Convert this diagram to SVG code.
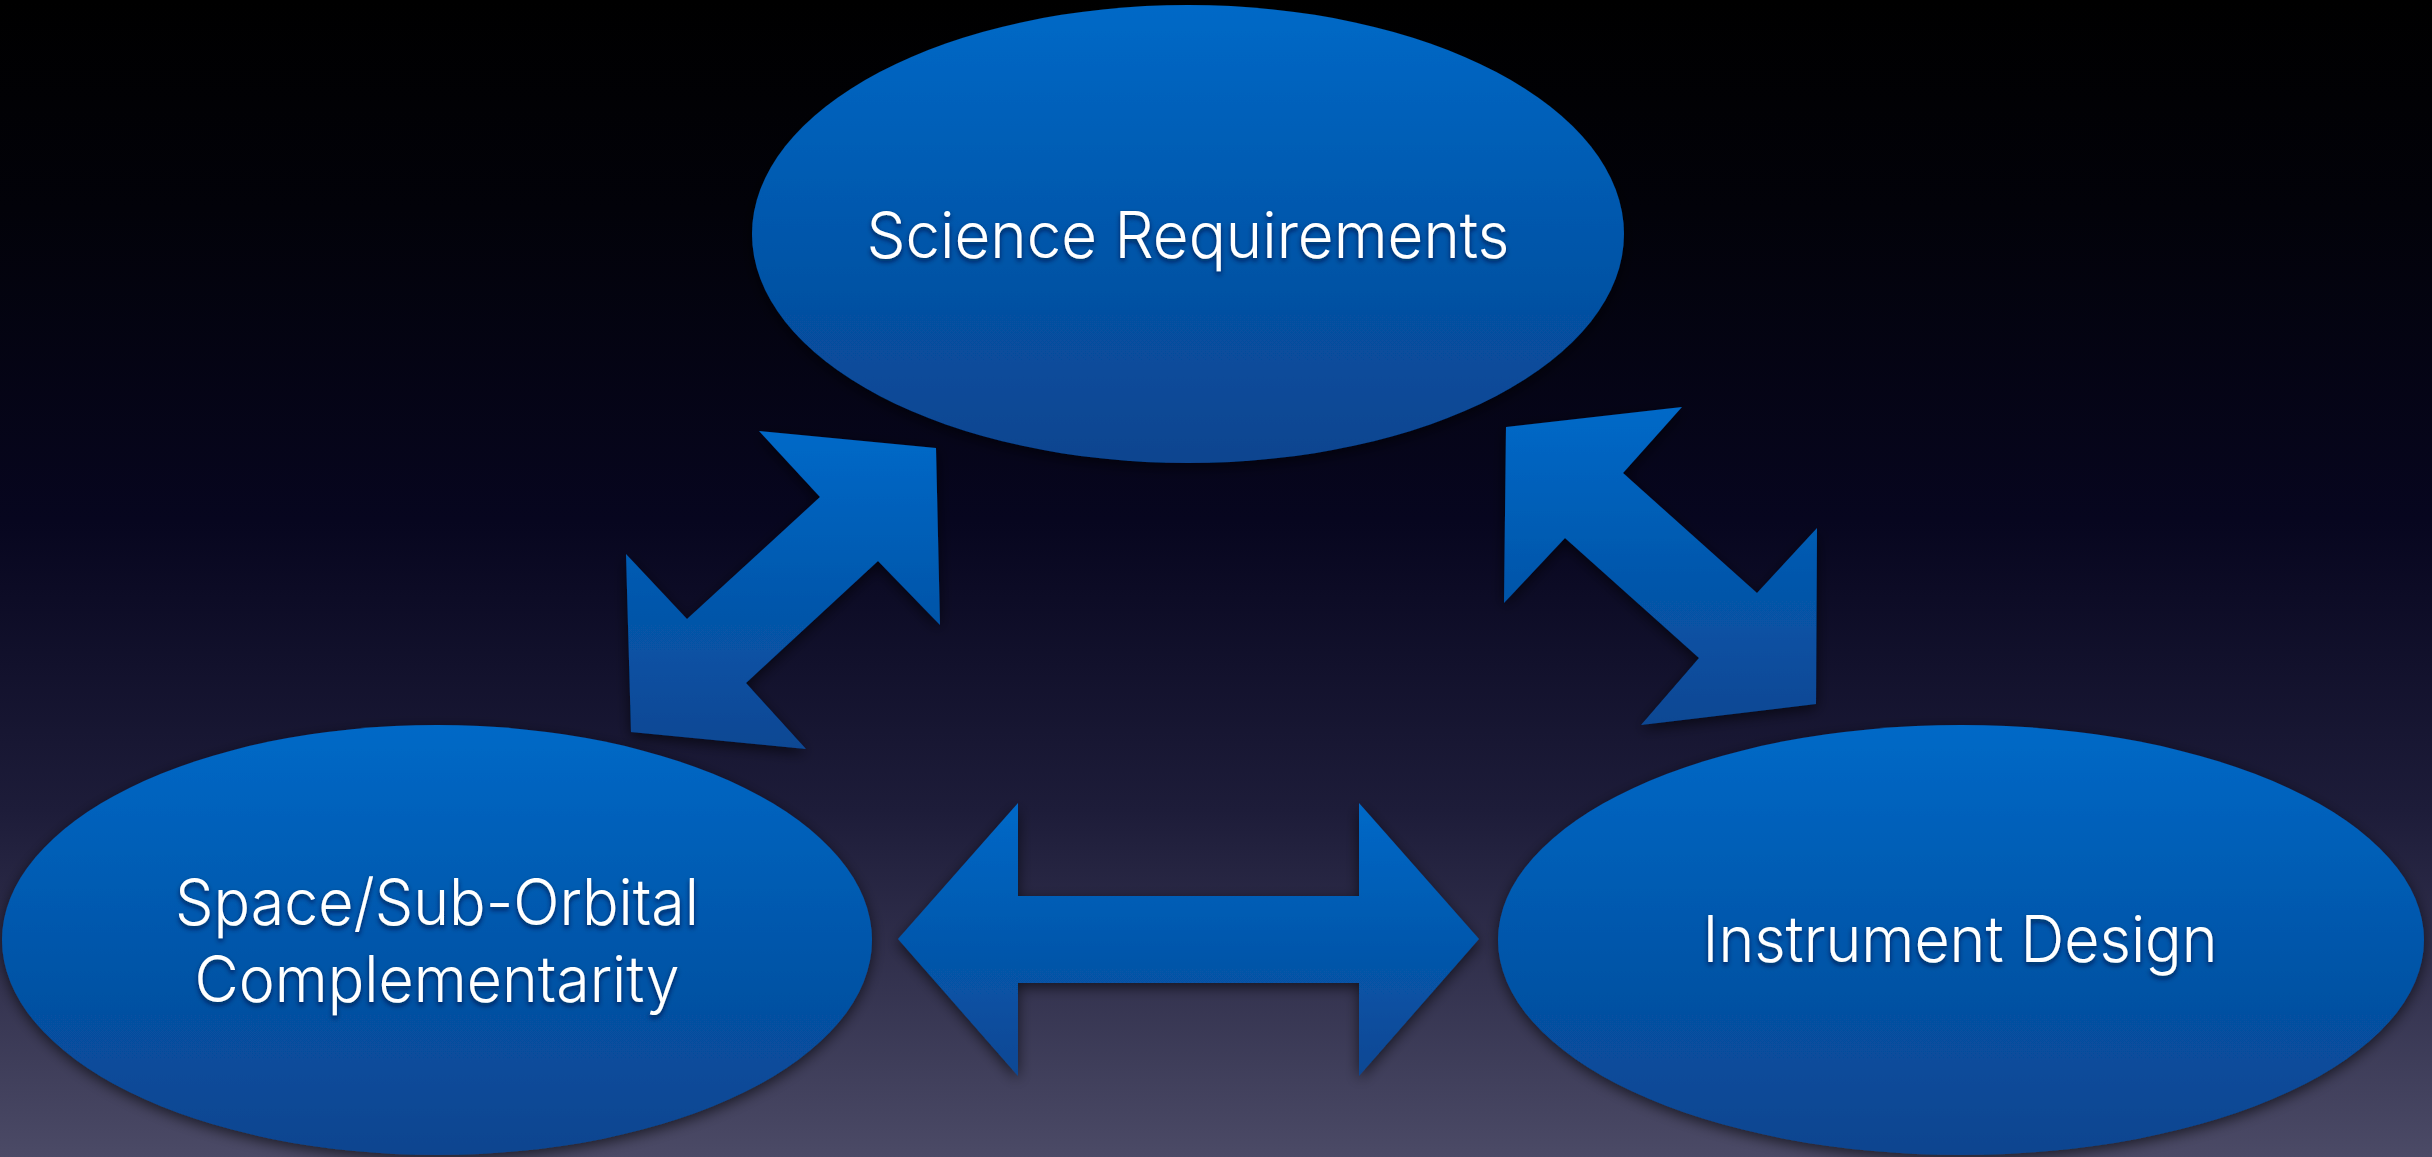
<svg xmlns="http://www.w3.org/2000/svg" width="2432" height="1157" viewBox="0 0 2432 1157">
  <defs>
    <linearGradient id="bg" x1="0" y1="0" x2="0" y2="1">
      <stop offset="0" stop-color="#000000"/>
      <stop offset="0.18" stop-color="#020209"/>
      <stop offset="0.45" stop-color="#07061f"/>
      <stop offset="0.7" stop-color="#1d1c39"/>
      <stop offset="1" stop-color="#4b4a66"/>
    </linearGradient>
    <linearGradient id="blue" x1="0" y1="0" x2="0" y2="1">
      <stop offset="0" stop-color="#0069c7"/>
      <stop offset="1" stop-color="#09448f"/>
    </linearGradient>
    <linearGradient id="arrowBlue" x1="0" y1="0" x2="0" y2="1">
      <stop offset="0" stop-color="#0069c8"/>
      <stop offset="1" stop-color="#0a4793"/>
    </linearGradient>
    <filter id="shadow" x="-10%" y="-10%" width="120%" height="125%">
      <feDropShadow dx="0" dy="4" stdDeviation="7" flood-color="#000000" flood-opacity="0.6"/>
    </filter>
    <filter id="textShadow" x="-5%" y="-30%" width="110%" height="160%">
      <feDropShadow dx="0" dy="3" stdDeviation="2.5" flood-color="#001030" flood-opacity="0.7"/>
    </filter>
  </defs>
  <style>
    .node { fill: url(#blue); filter: url(#shadow); }
    .arrow { fill: url(#arrowBlue); filter: url(#shadow); }
    .label { font-family: Inter, "Liberation Sans", Arial, sans-serif; font-weight: 300; font-size: 64px; fill: #ffffff; text-anchor: middle; filter: url(#textShadow); }
  </style>

  <!-- backdrop -->
  <rect x="0" y="0" width="2432" height="1157" fill="url(#bg)"/>

  <!-- double-headed connectors -->
  <g id="connectors">
    <polygon id="arrow-sci-space" class="arrow" points="936,448 940,625 878,561 746,683 806,749 631,732 626,554 687,619 820,497 759,431"/>
    <polygon id="arrow-sci-instr" class="arrow" points="1506,427 1682,407 1623,473 1757,593 1817,528 1816,704 1641,725 1699,658 1565,538 1504,603"/>
    <polygon id="arrow-space-instr" class="arrow" points="898,939 1018,803 1018,896 1359,896 1359,803 1479,939 1359,1076 1359,983 1018,983 1018,1076"/>
  </g>

  <!-- nodes -->
  <g id="science-requirements">
    <ellipse class="node" cx="1188" cy="234" rx="436" ry="229"/>
    <text class="label" x="1188" y="258" textLength="643" lengthAdjust="spacingAndGlyphs">Science Requirements</text>
  </g>

  <g id="space-suborbital">
    <ellipse class="node" cx="437" cy="940" rx="435" ry="215"/>
    <text class="label" x="437" y="925" textLength="524" lengthAdjust="spacingAndGlyphs">Space/Sub-Orbital</text>
    <text class="label" x="437" y="1002" textLength="485" lengthAdjust="spacingAndGlyphs">Complementarity</text>
  </g>

  <g id="instrument-design">
    <ellipse class="node" cx="1961" cy="940" rx="463" ry="215"/>
    <text class="label" x="1960" y="962" textLength="515" lengthAdjust="spacingAndGlyphs">Instrument Design</text>
  </g>
</svg>
